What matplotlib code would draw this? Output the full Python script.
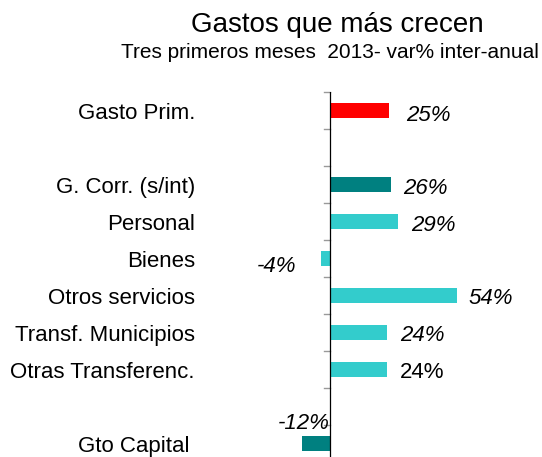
import matplotlib
matplotlib.use("Agg")
import matplotlib.pyplot as plt
from matplotlib.transforms import blended_transform_factory, offset_copy

plt.rcParams['font.family'] = ['Liberation Sans', 'DejaVu Sans']

# ---- data ----
categories = ["Gasto Prim.", "", "G. Corr. (s/int)", "Personal", "Bienes",
              "Otros servicios", "Transf. Municipios", "Otras Transferenc.", "", "Gto Capital"]
values = [25, None, 26, 29, -4, 54, 24, 24, None, -12]
value_labels = ["25%", "", "26%", "29%", "-4%", "54%", "24%", "24%", "", "-12%"]
title = "Gastos que más crecen"
subtitle = "Tres primeros meses  2013- var% inter-anual"

# ---- styles ----
colors = ["#FF0000", None, "#008080", "#33CCCC", "#33CCCC", "#33CCCC",
          "#33CCCC", "#33CCCC", None, "#008080"]
italic = [True, False, True, True, True, True, True, False, False, True]
# label offsets in pixels (dx from bar end, dy downward) and alignment
lab_dx = [17, 0, 12, 13, -24, 11, 13, 13, 0, 0]
lab_dy = [5, 0, 4, 4, 8, 3, 3, 3, 0, -20]
lab_ha = ["left", "left", "left", "left", "right", "left", "left", "left", "left", "right"]

W, H = 542, 457
fig = plt.figure(figsize=(W / 100, H / 100), dpi=100)

px_per_unit = 2.36
x0 = 330
top_px = 92
slot = 37.0
ax = fig.add_axes([0, 0, 1, 1 - top_px / H])
ax.set_xlim(-x0 / px_per_unit, (W - x0) / px_per_unit)
ax.set_ylim(-0.5 + (H - top_px) / slot, -0.5)
ax.axis('off')

n = len(categories)
ax.axvline(0, color='black', lw=0.9, zorder=3)
for b in range(n + 1):
    ax.plot([-6 / px_per_unit, 0], [b - 0.5, b - 0.5], color='#999999', lw=1.0,
            clip_on=False, zorder=2)

for i, v in enumerate(values):
    if v is None:
        continue
    ax.barh(i, v, height=0.4, color=colors[i], zorder=2)
    t = offset_copy(ax.transData, fig=fig, x=lab_dx[i], y=-lab_dy[i], units='dots')
    ax.text(v if lab_ha[i] == "left" else (min(v, 0) if i != 9 else 0), i,
            value_labels[i], transform=t, ha=lab_ha[i], va='center',
            fontsize=16, style='italic' if italic[i] else 'normal')

trans = offset_copy(blended_transform_factory(fig.transFigure, ax.transData),
                    fig=fig, x=0, y=-3, units='dots')
for i, c in enumerate(categories):
    if not c:
        continue
    xr = 195 if i != 9 else 189
    ax.text(xr / W, i, c, transform=trans, ha='right', va='center', fontsize=16)

fig.text(337 / W, 1 - 25 / H, title, ha='center', va='center', fontsize=20)
fig.text(330 / W, 1 - 53 / H, subtitle, ha='center', va='center', fontsize=15)

fig.savefig("out.png", dpi=100)
